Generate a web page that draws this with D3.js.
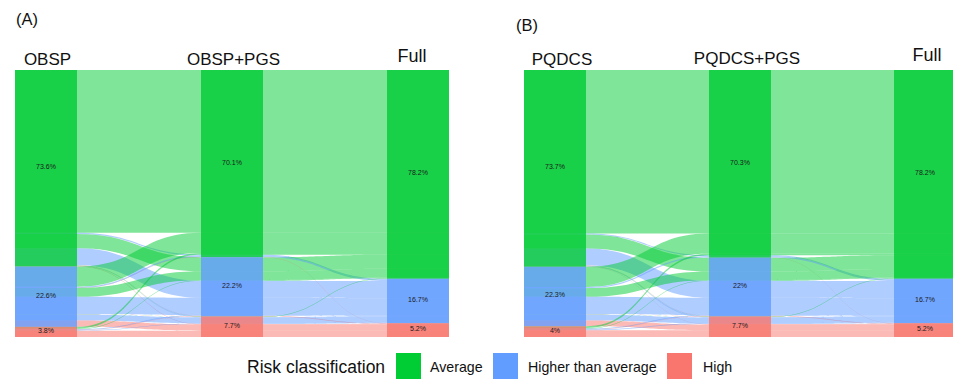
<!DOCTYPE html>
<html>
<head>
<meta charset="utf-8">
<script src="https://cdn.jsdelivr.net/npm/d3@7"></script>
<style>
  html, body { margin: 0; padding: 0; background: #fff; }
  svg { display: block; font-family: "Liberation Sans", Arial, Helvetica, sans-serif; }
</style>
</head>
<body>
<svg id="chart" width="953" height="379"></svg>
<script>
// Risk classes, top to bottom in every column
const categories = ["Average", "Higher than average", "High"];
const categoryColors = ["#00cc33", "#619cff", "#f8766d"];

// Column headings of the two panels
const axesA = ["OBSP", "OBSP+PGS", "Full"];
const axesB = ["PQDCS", "PQDCS+PGS", "Full"];

// Every (column 1, column 2, column 3) class combination, index into categories
const combos = [
  [0,0,0],[0,0,1],[0,0,2],[0,1,0],[0,1,1],[0,1,2],[0,2,0],[0,2,1],[0,2,2],
  [1,0,0],[1,0,1],[1,0,2],[1,1,0],[1,1,1],[1,1,2],[1,2,0],[1,2,1],[1,2,2],
  [2,0,0],[2,0,1],[2,0,2],[2,1,0],[2,1,1],[2,1,2],[2,2,0],[2,2,1],[2,2,2]
];

// Share of women on each combination, in hundredths of a percent
const sharesA = [
  6100, 40, 3, 530, 640, 10, 5, 17, 15,
  755, 45, 2, 330, 647, 10, 12, 223, 236,
  60, 5, 0, 20, 28, 5, 5, 22, 235
];
const sharesB = [
  6120, 40, 3, 520, 640, 10, 5, 17, 15,
  755, 45, 2, 320, 645, 10, 12, 220, 221,
  60, 5, 0, 20, 30, 5, 5, 25, 250
];

// Order of the lodes inside a stratum: which other columns are compared first
const lodeOrder = [[1, 2], [2, 0], [1, 0]];

const svg = d3.select("#chart");
svg.append("rect").attr("width", 953).attr("height", 379).attr("fill", "#fff");

const fmt = d3.format(".1~f");

function drawPanel(opts) {
  const { shares, axes, colX, tag, tagX, tagY, headX, headY } = opts;
  const g = svg.append("g");
  const total = d3.sum(shares);
  const nodeW = 62;
  const y = d3.scaleLinear().domain([0, total]).range([70, 337]);
  const h = d3.scaleLinear().domain([0, total]).range([0, 267]);

  const paths = combos.map((c, i) => ({ cats: c, value: shares[i], pos: [] }));

  // stack the strata, then the lodes inside each stratum
  const strata = [];
  for (let d = 0; d < 3; d++) {
    let acc = 0;
    categories.forEach((cat, k) => {
      const members = paths.filter(p => p.cats[d] === k);
      const sum = d3.sum(members, p => p.value);
      strata.push({ axis: d, cat: k, start: acc, value: sum });
      const sorted = members.slice().sort((a, b) => {
        for (const o of lodeOrder[d]) {
          if (a.cats[o] !== b.cats[o]) return a.cats[o] - b.cats[o];
        }
        return 0;
      });
      let inner = acc;
      sorted.forEach(p => { p.pos[d] = inner; inner += p.value; });
      acc += sum;
    });
  }

  // one band per combination, flat across each stratum, curved between
  function bandPath(p) {
    const top = [0, 1, 2].map(d => y(p.pos[d]));
    const bot = [0, 1, 2].map(d => y(p.pos[d] + p.value));
    const pth = d3.path();
    pth.moveTo(colX[0], top[0]);
    for (let d = 0; d < 3; d++) {
      pth.lineTo(colX[d] + nodeW, top[d]);
      if (d < 2) {
        const x0 = colX[d] + nodeW, x1 = colX[d + 1];
        const xm = (x0 + x1) / 2;
        pth.bezierCurveTo(xm, top[d], xm, top[d + 1], x1, top[d + 1]);
      }
    }
    pth.lineTo(colX[2] + nodeW, bot[2]);
    for (let d = 2; d >= 0; d--) {
      pth.lineTo(colX[d], bot[d]);
      if (d > 0) {
        const x0 = colX[d], x1 = colX[d - 1] + nodeW;
        const xm = (x0 + x1) / 2;
        pth.bezierCurveTo(xm, bot[d], xm, bot[d - 1], x1, bot[d - 1]);
      }
    }
    pth.closePath();
    return pth.toString();
  }

  g.append("g").selectAll("path")
    .data(paths.filter(p => p.value > 0))
    .join("path")
    .attr("d", bandPath)
    .attr("fill", p => categoryColors[p.cats[2]])
    .attr("fill-opacity", 0.5);

  // strata, semi-transparent over the bands
  g.append("g").selectAll("rect")
    .data(strata)
    .join("rect")
    .attr("x", s => colX[s.axis])
    .attr("y", s => y(s.start))
    .attr("width", nodeW)
    .attr("height", s => h(s.value))
    .attr("fill", s => categoryColors[s.cat])
    .attr("fill-opacity", 0.8);

  g.append("g").selectAll("text")
    .data(strata)
    .join("text")
    .attr("x", s => colX[s.axis] + nodeW / 2)
    .attr("y", s => y(s.start + s.value / 2) - 1.5)
    .attr("dy", "0.35em")
    .attr("text-anchor", "middle")
    .attr("font-size", 7)
    .attr("fill", "#1a1a1a")
    .text(s => fmt(s.value / total * 100) + "%");

  // column headings
  g.append("g").selectAll("text")
    .data(axes)
    .join("text")
    .attr("x", (a, i) => headX[i])
    .attr("y", (a, i) => headY[i])
    .attr("text-anchor", "middle")
    .attr("font-size", (a, i) => i === 2 ? 18 : 17)
    .attr("fill", "#111")
    .text(a => a);

  g.append("text")
    .attr("x", tagX).attr("y", tagY)
    .attr("font-size", 16.5)
    .attr("fill", "#111")
    .text(tag);
}

drawPanel({
  shares: sharesA, axes: axesA, colX: [15, 201, 387], tag: "(A)", tagX: 16, tagY: 25,
  headX: [47.5, 233.5, 412], headY: [64.5, 64.5, 62]
});
drawPanel({
  shares: sharesB, axes: axesB, colX: [524, 709, 894], tag: "(B)", tagX: 516, tagY: 31,
  headX: [562, 747, 927], headY: [64.5, 63.5, 60.5]
});

// legend
const legend = svg.append("g");
legend.append("text")
  .attr("x", 247).attr("y", 367).attr("dy", "0.35em")
  .attr("font-size", 17.5).attr("fill", "#111")
  .text("Risk classification");
const keyX = [396, 493, 667];
const labelX = [430, 528, 703];
categories.forEach((c, i) => {
  legend.append("rect")
    .attr("x", keyX[i]).attr("y", 353).attr("width", 25).attr("height", 26)
    .attr("fill", categoryColors[i]);
  legend.append("text")
    .attr("x", labelX[i]).attr("y", 367).attr("dy", "0.35em")
    .attr("font-size", 14.2).attr("fill", "#111")
    .text(c);
});
</script>
</body>
</html>
